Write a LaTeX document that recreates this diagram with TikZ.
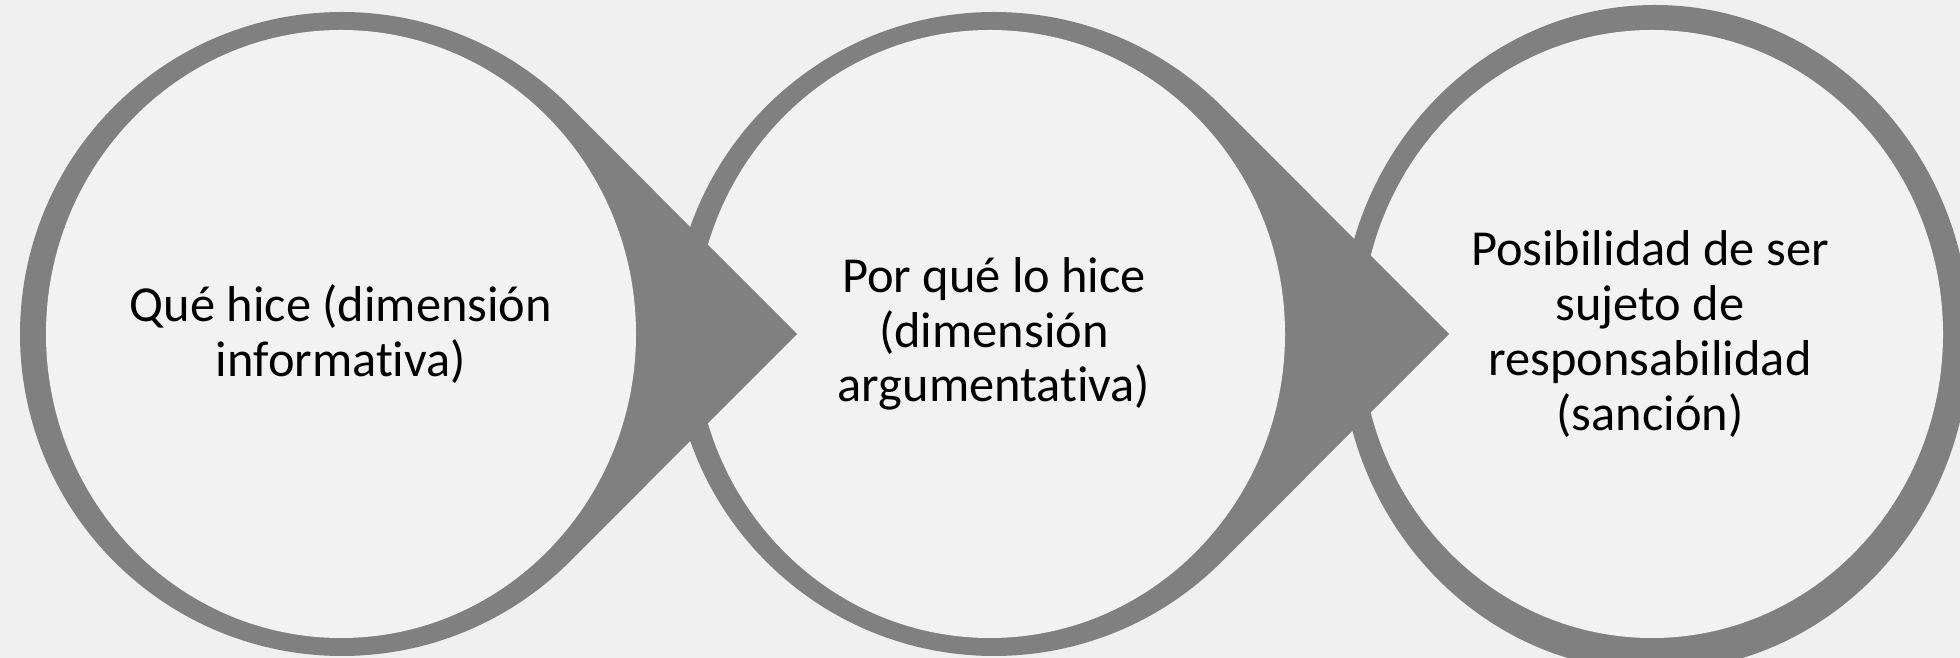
\documentclass[tikz,border=0pt]{standalone}
\usepackage{fontspec}
\setmainfont{Carlito}[Ligatures=NoCommon]
\definecolor{bggray}{RGB}{240,240,241}
\definecolor{ringgray}{RGB}{128,128,128}
\definecolor{discgray}{RGB}{242,242,242}

\begin{document}
\begin{tikzpicture}[x=0.5pt,y=0.5pt,
		ring/.style={fill=ringgray},
		disc/.style={fill=discgray},
		dimtext/.style={align=center,text=black,font=\fontsize{25.2}{27.4}\selectfont}]
		\useasboundingbox (0,0) rectangle (1960,658);
		\clip (0,0) rectangle (1960,658);
		\fill[bggray] (0,0) rectangle (1960,658);
		\fill[ring] (1655,320) ellipse [x radius=315, y radius=333];
		\fill[disc] (1652,324) ellipse [x radius=291, y radius=304];
		\foreach \cx/\lx in {994/990, 342/341}{
			\fill[ring] (\cx+455,324) -- ([shift={(\cx,324)}]45:322) arc[start angle=45, end angle=315, radius=322] -- cycle;
			\fill[disc] (\lx,324) ellipse [x radius=295, y radius=304];
		}
		\node[dimtext] (que) at (341,324) {Qué hice (dimensión\\informativa)};
		\node[dimtext] (porque) at (994,324) {Por qué lo hice\\(dimensión\\argumentativa)};
		\node[dimtext] (sancion) at (1650,324) {Posibilidad de ser\\sujeto de\\responsabilidad\\(sanción)};
\end{tikzpicture}
\end{document}
